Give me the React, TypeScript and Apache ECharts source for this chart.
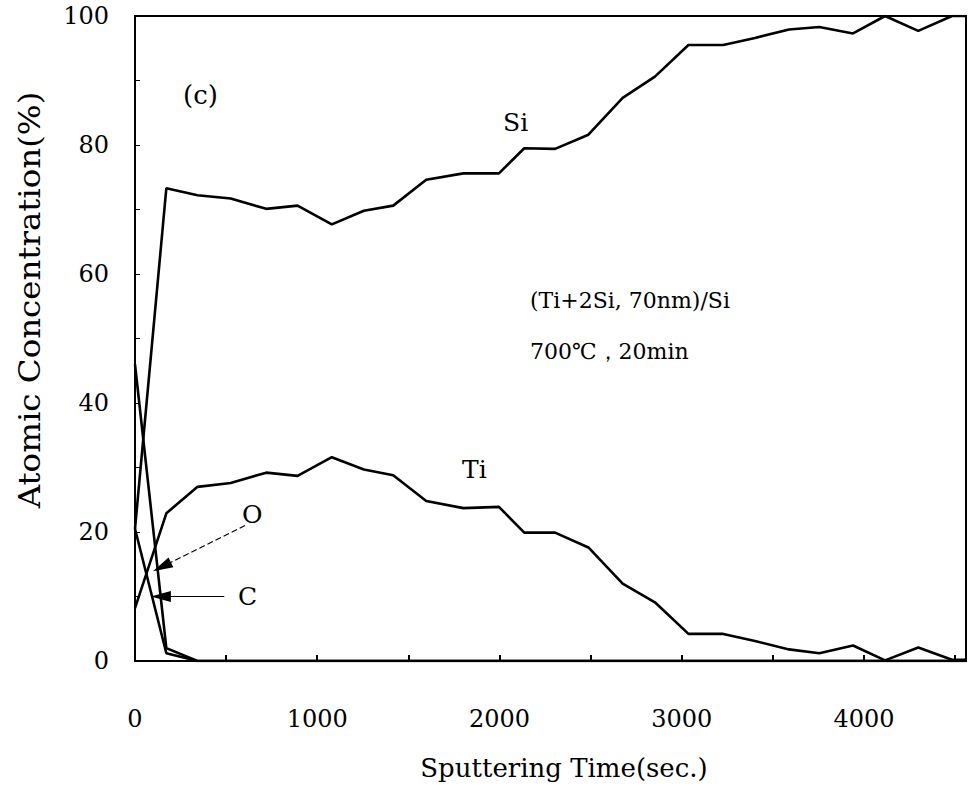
import React, { useEffect, useRef } from 'react';
import * as echarts from 'echarts';

// Sputtering time (s) of each measured point
const timeSec = [0, 172, 343, 525, 720, 892, 1080, 1256, 1417, 1598, 1802, 1997, 2136, 2305, 2488, 2676, 2853, 3037, 3228, 3402, 3589, 3755, 3940, 4116, 4298, 4483, 4560];
// Atomic concentration (%)
const siPct = [20.5, 73.3, 72.2, 71.7, 70.1, 70.6, 67.7, 69.8, 70.6, 74.6, 75.6, 75.6, 79.5, 79.4, 81.6, 87.3, 90.6, 95.5, 95.5, 96.6, 97.9, 98.3, 97.3, 100, 97.7, 100, 100];
const tiPct = [8.2, 22.9, 27.0, 27.6, 29.2, 28.7, 31.6, 29.7, 28.8, 24.8, 23.7, 23.9, 19.9, 19.9, 17.6, 12.0, 9.1, 4.2, 4.2, 3.1, 1.8, 1.2, 2.4, 0.1, 2.1, 0.2, 0.2];
const oPct = [46, 2, 0, 0, 0, 0, 0, 0, 0, 0, 0, 0, 0, 0, 0, 0, 0, 0, 0, 0, 0, 0, 0, 0, 0, 0, 0];
const cPct = [20.5, 1.2, 0, 0, 0, 0, 0, 0, 0, 0, 0, 0, 0, 0, 0, 0, 0, 0, 0, 0, 0, 0, 0, 0, 0, 0, 0];

const xTickLabels = [0, 1000, 2000, 3000, 4000];
const yTickLabels = [0, 20, 40, 60, 80, 100];

// arrow annotations (data space): [from, to]
const oArrow = [[604, 21], [148, 14.6]];
const cArrow = [[490, 10], [142, 10]];

const FONT = 'DejaVu Serif';

export default function App() {
  const ref = useRef<HTMLDivElement>(null);
  useEffect(() => {
    document.body.style.margin = '0';
    const chart = echarts.init(ref.current!, null, { renderer: 'svg' });
    const pair = (ys: number[]) => timeSec.map((t, i) => [t, ys[i]]);
    const base = (name: string, ys: number[]) => ({
      type: 'line',
      name,
      data: pair(ys),
      showSymbol: false,
      symbol: 'none',
      silent: true,
      lineStyle: { color: '#000', width: 2.6 },
      itemStyle: { color: '#000' },
      z: 3,
    });
    const arrow = (pts: number[][], dashed: boolean) => ({
      silent: true,
      symbol: ['none', 'triangle'],
      label: { show: false },
      lineStyle: { color: '#000', width: 1.2, type: dashed ? [6, 3] : 'solid' },
      emphasis: { disabled: true },
      data: [[
        { coord: pts[0], symbol: 'none' },
        { coord: pts[1], symbol: 'triangle', symbolSize: [11, 20] },
      ]],
    });
    const txt = (text: string, x: number, y: number, size: number) => ({
      type: 'text',
      x,
      y,
      silent: true,
      style: { text, fill: '#000', font: `${size}px "${FONT}"`, align: 'left', verticalAlign: 'top' },
    });
    chart.setOption({
      animation: false,
      backgroundColor: '#fff',
      grid: { left: 135, right: 5, top: 16, bottom: 129, show: true, borderColor: '#000', borderWidth: 2 },
      xAxis: {
        type: 'value', min: 0, max: 4560, interval: 500,
        axisLine: { show: true, lineStyle: { color: '#000', width: 2 } },
        axisTick: { show: true, inside: true, length: 6, lineStyle: { color: '#000', width: 2 } },
        splitLine: { show: false },
        axisLabel: {
          margin: 46, fontFamily: FONT, fontSize: 24, color: '#000', showMaxLabel: false,
          formatter: (v: number) => (xTickLabels.includes(v) ? String(v) : ''),
        },
      },
      yAxis: {
        type: 'value', min: 0, max: 100, interval: 10,
        axisLine: { show: true, lineStyle: { color: '#000', width: 2 } },
        axisTick: { show: true, inside: true, length: 5, lineStyle: { color: '#000', width: 1 } },
        splitLine: { show: false },
        axisLabel: {
          margin: 26, fontFamily: FONT, fontSize: 24, color: '#000',
          formatter: (v: number) => (yTickLabels.includes(v) ? String(v) : ''),
        },
      },
      series: [
        base('Si', siPct),
        base('Ti', tiPct),
        { ...base('O', oPct), markLine: arrow(oArrow, true) },
        { ...base('C', cPct), markLine: arrow(cArrow, false) },
      ],
      graphic: [
        txt('(c)', 183, 82, 26),
        txt('Si', 503, 110, 25),
        txt('Ti', 462, 457, 25),
        txt('O', 242, 502, 25),
        txt('C', 238, 584, 25),
        txt('(Ti+2Si, 70nm)/Si', 530, 289, 22),
        txt('700℃，20min', 530, 340, 22),
        {
          type: 'text', x: 30, y: 300, rotation: Math.PI / 2, scaleX: 1.12, silent: true,
          style: { text: 'Atomic Concentration(%)', fill: '#000', font: `29px "${FONT}"`, align: 'center', verticalAlign: 'middle' },
        },
        {
          type: 'text', x: 564, y: 768, silent: true,
          style: { text: 'Sputtering Time(sec.)', fill: '#000', font: `26px "${FONT}"`, align: 'center', verticalAlign: 'middle' },
        },
      ],
    });
    return () => chart.dispose();
  }, []);
  return <div ref={ref} style={{ width: 971, height: 790 }} />;
}
